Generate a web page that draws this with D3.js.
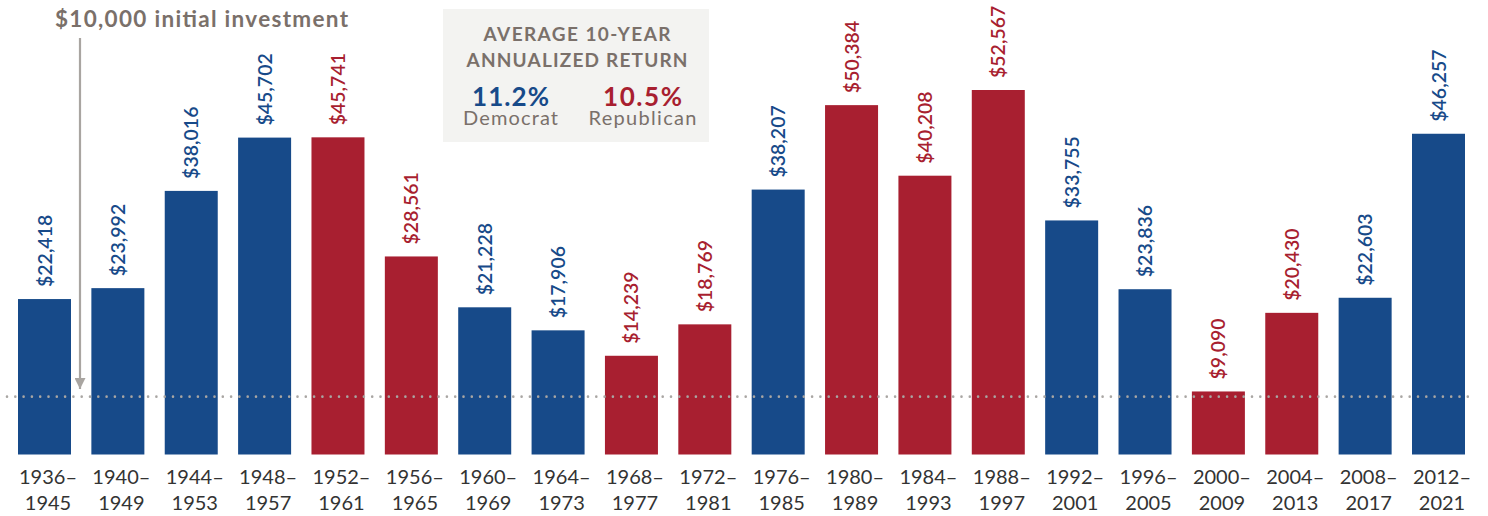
<!DOCTYPE html>
<html><head><meta charset="utf-8">
<script src="https://cdn.jsdelivr.net/npm/d3@7"></script>
<style>
html,body{margin:0;padding:0;background:#fff;}
svg{display:block;font-family:Lato,"Open Sans",sans-serif;}
</style></head>
<body>
<svg id="chart" width="1488" height="516"></svg>
<script>
const categories = ["1936–1945","1940–1949","1944–1953","1948–1957","1952–1961","1956–1965","1960–1969","1964–1973","1968–1977","1972–1981","1976–1985","1980–1989","1984–1993","1988–1997","1992–2001","1996–2005","2000–2009","2004–2013","2008–2017","2012–2021"];
const values = [22418,23992,38016,45702,45741,28561,21228,17906,14239,18769,38207,50384,40208,52567,33755,23836,9090,20430,22603,46257];
const parties = ["D","D","D","D","R","R","D","D","R","R","D","R","R","R","D","D","R","R","D","D"];
const partyNames = {D:"Democrat", R:"Republican"};
const avgReturns = {D:"11.2%", R:"10.5%"};
const referenceValue = 8340; // dotted line position as drawn
const annotationText = "$10,000 initial investment";
const legendTitle = ["AVERAGE 10-YEAR","ANNUALIZED RETURN"];

const colors = {D:"#174a89", R:"#a81f30"};
const gray = "#7a706a";

const svg = d3.select("#chart");
const x = d3.scaleBand().domain(categories).range([18,1465]).paddingInner(0.2776).paddingOuter(0);
const y = d3.scaleLinear().domain([0,52567]).range([454.5,90]);

// bars
svg.append("g").selectAll("rect").data(categories).join("rect")
  .attr("x", d=>x(d)).attr("width", x.bandwidth())
  .attr("y", (d,i)=>y(values[i])).attr("height", (d,i)=>y(0)-y(values[i]))
  .attr("fill", (d,i)=>colors[parties[i]]);

// reference dotted line
svg.append("line")
  .attr("x1", 7).attr("x2", 1476)
  .attr("y1", y(referenceValue)).attr("y2", y(referenceValue))
  .attr("stroke", "#a9a6a3").attr("stroke-width", 2.6)
  .attr("stroke-linecap","round").attr("stroke-dasharray","0 8.3");

// value labels
svg.append("g").selectAll("text").data(categories).join("text")
  .attr("transform", (d,i)=>`translate(${x(d)+x.bandwidth()/2},${y(values[i])-12}) rotate(-90)`)
  .attr("dy","0.36em")
  .attr("text-anchor","start")
  .attr("fill",(d,i)=>colors[parties[i]])
  .style("font-size","19.5px").style("font-weight","600")
  .text((d,i)=>"$"+d3.format(",")(values[i]));

// axis
const axis = svg.append("g").attr("transform",`translate(3.5,${y(0)})`)
  .call(d3.axisBottom(x).tickSize(0).tickPadding(0));
axis.select(".domain").remove();
axis.selectAll(".tick text").each(function(d){
  const t = d3.select(this);
  const parts = d.split("–");
  t.text(null).attr("y",0).attr("dy",null)
   .attr("fill","#333").style("font-size","20px").style("font-family","Lato,sans-serif");
  t.append("tspan").attr("x",0).attr("y",29).text(parts[0]+"–");
  t.append("tspan").attr("x",0).attr("y",55).text(parts[1]);
});

// annotation
svg.append("text").attr("x",55).attr("y",27)
  .attr("fill",gray).style("font-size","22.5px").style("font-weight","700")
  .attr("textLength",293).attr("lengthAdjust","spacing")
  .text(annotationText);
svg.append("defs").append("marker").attr("id","arr")
  .attr("viewBox","0 0 10 10").attr("refX",10).attr("refY",5)
  .attr("markerWidth",5).attr("markerHeight",5).attr("markerUnits","strokeWidth")
  .attr("orient","auto")
  .append("path").attr("d","M0,0 L10,5 L0,10 Z").attr("fill","#a9a5a1");
svg.append("line").attr("x1",80).attr("x2",80).attr("y1",38).attr("y2",389)
  .attr("stroke","#a9a5a1").attr("stroke-width",2.2).attr("marker-end","url(#arr)");

// legend box
const lg = svg.append("g");
lg.append("rect").attr("x",443).attr("y",9).attr("width",266).attr("height",133).attr("fill","#f3f3f1");
const titleW = [187,221];
lg.selectAll("text.title").data(legendTitle).join("text").attr("class","title")
  .attr("x",577).attr("y",(d,i)=>41+i*26).attr("text-anchor","middle")
  .attr("textLength",(d,i)=>titleW[i]).attr("lengthAdjust","spacing")
  .attr("fill",gray).style("font-size","19px").style("font-weight","700").text(d=>d);
const legendItems = [{k:"D",cx:510.5,pw:77,nw:95},{k:"R",cx:642.5,pw:79,nw:108}];
lg.selectAll("text.pct").data(legendItems).join("text").attr("class","pct")
  .attr("x",d=>d.cx).attr("y",106).attr("text-anchor","middle")
  .attr("textLength",d=>d.pw).attr("lengthAdjust","spacing")
  .attr("fill",d=>colors[d.k]).style("font-size","26px").style("font-weight","700")
  .text(d=>avgReturns[d.k]);
lg.selectAll("text.nm").data(legendItems).join("text").attr("class","nm")
  .attr("x",d=>d.cx).attr("y",125).attr("text-anchor","middle")
  .attr("textLength",d=>d.nw).attr("lengthAdjust","spacing")
  .attr("fill",gray).style("font-size","20px")
  .text(d=>partyNames[d.k]);
</script>
</body></html>
